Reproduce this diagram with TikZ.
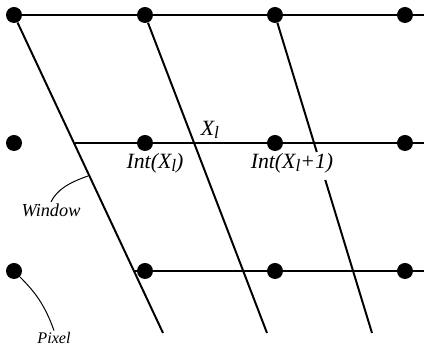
\documentclass[tikz,border=0pt]{standalone}
\usepackage{fontspec}
\setmainfont{Liberation Serif}
\usepackage{tikz}
\usetikzlibrary{positioning, calc}

\newcommand{\indl}{\raisebox{-0.3ex}{\scalebox{0.8}{l}}}

\tikzset{
	pixel/.style={circle, fill=black, inner sep=0pt, minimum size=0.4cm},
	ligne/.style={line width=1.4pt},
	etiq/.style={font=\fontsize{15.5}{17}\selectfont\itshape, inner sep=1pt},
	renvoi/.style={line width=0.7pt}
}

\begin{document}
\begin{tikzpicture}[x=0.025cm, y=-0.025cm]
				\useasboundingbox (0,0) rectangle (424,347);
				
				% pixels
				\foreach \i/\y in {1/15, 2/143, 3/271}
					\foreach \j/\x in {1/14, 2/145, 3/275, 4/405}
						\node[pixel] (p\i\j) at (\x,\y) {};
				
				% bouts des lignes
				\coordinate (h1) at (424,15);
				\coordinate (h2) at (424,143);
				\coordinate (h3) at (424,271);
				\coordinate (m1) at (75,143);
				\coordinate (b1) at (135,271);
				\coordinate (w1) at (163,333);
				\coordinate (w2) at (267,333);
				\coordinate (w3a) at (316.8,152);
				\coordinate (w3b) at (325.3,180);
				\coordinate (w3) at (372,333);
				
				% lignes de pixels
				\draw[ligne] (p11) -- (h1);
				\draw[ligne] (m1) -- (h2);
				\draw[ligne] (b1) -- (h3);
				
				% fenetre
				\draw[ligne] (p11) -- (w1);
				\draw[ligne] (p12) -- (w2);
				\draw[ligne] (p13) -- (w3a);
				\draw[ligne] (w3b) -- (w3);
				
				% textes
				\node[etiq] (xl) at (210,130) {X\indl};
				\node[etiq] (int1) at (155,163) {Int(X\indl)};
				\node[etiq] (int2) at (292,163) {Int(X\indl+1)};
				\node[etiq, font=\fontsize{13}{15}\selectfont\itshape] (win) at (51,210) {Window};
				\node[etiq, font=\fontsize{11.5}{13}\selectfont\itshape] (pix) at (54,338) {Pixel};
				
				% renvois
				\coordinate (wl) at (88,176);
				\draw[renvoi] (wl) .. controls (68,183) and (57,190) .. (win.north);
				\draw[renvoi] (p31) .. controls (35,292) and (45,305) .. (pix.north);
			\end{tikzpicture}
\end{document}
